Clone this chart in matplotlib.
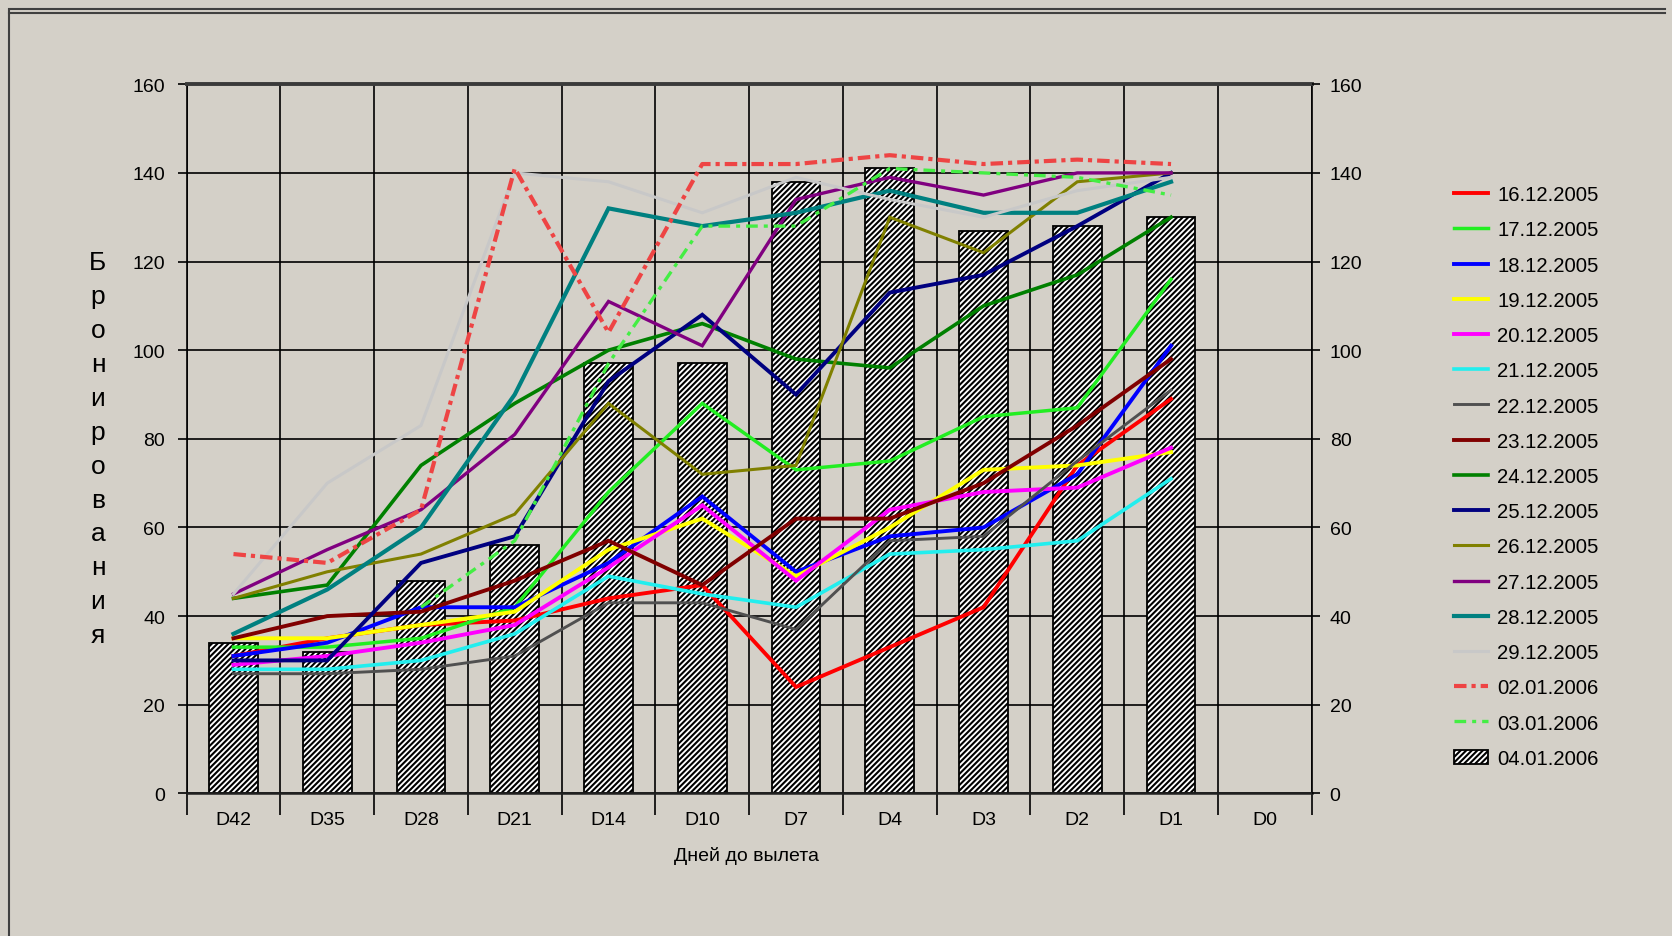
import numpy as np
import matplotlib
matplotlib.use('Agg')
import matplotlib.pyplot as plt
from matplotlib.lines import Line2D

plt.rcParams['font.family'] = ['Liberation Sans', 'DejaVu Sans']
plt.rcParams['hatch.linewidth'] = 1.5

nan = np.nan
categories = ['D42', 'D35', 'D28', 'D21', 'D14', 'D10', 'D7', 'D4', 'D3', 'D2', 'D1', 'D0']

s_16_12 = [31, 35, 38, 39, 44, 47, 24, 33, 42, 74, 89, nan]
s_17_12 = [33, 33, 35, 42, 68, 88, 73, 75, 85, 87, 116, nan]
s_18_12 = [31, 34, 42, 42, 52, 67, 50, 58, 60, 72, 101, nan]
s_19_12 = [35, 35, 38, 41, 55, 62, 49, 60, 73, 74, 77, nan]
s_20_12 = [29, 31, 34, 38, 51, 65, 48, 64, 68, 69, 78, nan]
s_21_12 = [28, 28, 30, 36, 49, 45, 42, 54, 55, 57, 71, nan]
s_22_12 = [27, 27, 28, 31, 43, 43, 37, 57, 58, 75, 91, nan]
s_23_12 = [35, 40, 41, 48, 57, 47, 62, 62, 70, 83, 98, nan]
s_24_12 = [44, 47, 74, 88, 100, 106, 98, 96, 110, 117, 130, nan]
s_25_12 = [30, 30, 52, 58, 93, 108, 90, 113, 117, 128, 140, nan]
s_26_12 = [44, 50, 54, 63, 88, 72, 74, 130, 122, 138, 140, nan]
s_27_12 = [45, 55, 64, 81, 111, 101, 134, 139, 135, 140, 140, nan]
s_28_12 = [36, 46, 60, 90, 132, 128, 131, 136, 131, 131, 138, nan]
s_29_12 = [45, 70, 83, 140, 138, 131, 139, 134, 130, 136, 139, nan]
s_02_01 = [54, 52, 64, 141, 104, 142, 142, 144, 142, 143, 142, nan]
s_03_01 = [nan, nan, 42, 57, 97, 128, 128, 141, 140, 139, 135, nan]
bars_04_01 = [34, 32, 48, 56, 97, 97, 138, 141, 127, 128, 130, nan]

line_labels = ['16.12.2005', '17.12.2005', '18.12.2005', '19.12.2005', '20.12.2005',
               '21.12.2005', '22.12.2005', '23.12.2005', '24.12.2005', '25.12.2005',
               '26.12.2005', '27.12.2005', '28.12.2005', '29.12.2005', '02.01.2006',
               '03.01.2006']
bar_label = '04.01.2006'
y_ticks = [0, 20, 40, 60, 80, 100, 120, 140, 160]

series = [s_16_12, s_17_12, s_18_12, s_19_12, s_20_12, s_21_12, s_22_12, s_23_12,
          s_24_12, s_25_12, s_26_12, s_27_12, s_28_12, s_29_12, s_02_01, s_03_01]
colors = ['#ff0000', '#22ee22', '#0000ff', '#ffff00', '#ff00ff', '#22eeee', '#505050',
          '#800000', '#008000', '#000080', '#808000', '#800080', '#008080', '#c8c8c8',
          '#ee4444', '#44ee44']
widths = [2.8, 2.5, 2.8, 2.8, 2.8, 2.6, 2.1, 2.8, 2.6, 2.8, 2.2, 2.4, 3.0, 2.2, 3.0, 2.4]
styles = ['-'] * 14 + [(0, (3, 1.2, 1, 1.2)), (0, (3.5, 1.8, 1.2, 1.8))]

BG = '#d4d0c8'
fig = plt.figure(figsize=(16.72, 9.37), dpi=100, facecolor=BG)
ax = fig.add_axes([0.1116, 0.1522, 0.6729, 0.7568])
ax.set_facecolor(BG)

x = np.arange(len(categories))
bx = [xi for xi, v in zip(x, bars_04_01) if not np.isnan(v)]
bv = [v for v in bars_04_01 if not np.isnan(v)]
bars = ax.bar(bx, bv, width=0.52, facecolor='white', edgecolor='black',
              hatch='//////', linewidth=1.3, zorder=2, label=bar_label)

handles = []
for s, c, w, ls, lab in zip(series, colors, widths, styles, line_labels):
    ln, = ax.plot(x, s, color=c, lw=w, linestyle=ls, zorder=3, label=lab,
                  solid_joinstyle='miter')
    handles.append(ln)
handles.append(bars)

ax.set_xlim(-0.5, len(categories) - 0.5)
ax.set_ylim(0, 160)
ax.set_yticks(y_ticks)
ax.set_yticklabels([str(v) for v in y_ticks])
ax.set_xticks(np.arange(-0.5, len(categories), 1.0))
ax.set_xticklabels([])
ax.set_xticks(x, minor=True)
ax.set_xticklabels(categories, minor=True)
ax.tick_params(axis='x', which='major', length=16, width=1.2, color='black', direction='out')
ax.tick_params(axis='x', which='minor', length=0, pad=13, labelsize=14)
ax.tick_params(axis='y', which='major', length=6.5, width=1.2, pad=9, labelsize=14)
ax.grid(True, which='major', color='black', lw=1.2, zorder=0)
ax.set_axisbelow(True)
for side in ['left', 'right']:
    ax.spines[side].set_color('black')
    ax.spines[side].set_linewidth(1.2)
ax.spines['top'].set_color('#3a3a3a')
ax.spines['top'].set_linewidth(2.8)
ax.spines['bottom'].set_color('#202020')
ax.spines['bottom'].set_linewidth(1.8)

ax2 = ax.twinx()
ax2.set_ylim(0, 160)
ax2.set_yticks(y_ticks)
ax2.set_yticklabels([str(v) for v in y_ticks])
ax2.tick_params(axis='y', length=6, width=1.2, pad=7, labelsize=14)
for sp in ax2.spines.values():
    sp.set_visible(False)

fig.text(0.4466, 0.0864, 'Дней до вылета', ha='center', va='center', fontsize=14)
fig.text(0.0586, 0.52, '\n'.join('Бронирования'), ha='center', va='center',
         fontsize=19, linespacing=1.52)

leg = fig.legend(handles=handles, labels=line_labels + [bar_label], loc='upper left',
                 bbox_to_anchor=(0.8695, 0.8013), frameon=False, fontsize=14.6,
                 handlelength=1.7, handletextpad=0.45, labelspacing=0.80,
                 borderpad=0, borderaxespad=0)

# window frame
fig.add_artist(Line2D([9 / 1672, 9 / 1672], [0, 1 - 12 / 937], color='#404040', lw=1.5))
fig.add_artist(Line2D([9 / 1672, 1665 / 1672], [1 - 10 / 937, 1 - 10 / 937], color='#404040', lw=1.5))
fig.add_artist(Line2D([9 / 1672, 1665 / 1672], [1 - 13.5 / 937, 1 - 13.5 / 937], color='#404040', lw=1.5))

fig.savefig('out.png', dpi=100, facecolor=BG)
